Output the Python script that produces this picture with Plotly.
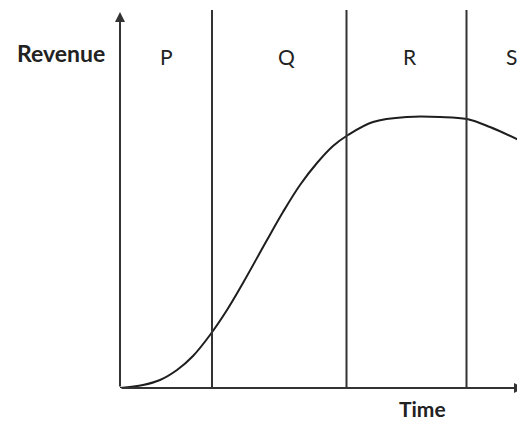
import plotly.graph_objects as go

# Curve: time vs revenue (arbitrary units)
time_vals = [0, 23, 40, 57, 73, 90, 107, 123, 147, 163, 180, 197, 213, 228, 253, 287, 320, 347, 370, 405]
revenue_vals = [0, 3, 8, 18, 32, 53, 78, 105, 148, 176, 203, 225, 242, 253, 266, 271, 271, 269, 261, 245]

# Stage boundaries (time) and stage labels
boundaries = [92, 226.5, 346.5]
stage_labels = ["P", "Q", "R", "S"]
stage_label_x = [0.114, 0.410, 0.716, 0.966]

X_MAX = 405
Y_MAX = 378

fig = go.Figure()
fig.add_trace(go.Scatter(
    x=time_vals, y=revenue_vals, mode="lines",
    line=dict(color="#1e1e1e", width=2, shape="spline", smoothing=1.0),
    hoverinfo="skip", showlegend=False,
))

shapes = []
for b in boundaries:
    shapes.append(dict(type="line", xref="x", yref="y", x0=b, x1=b, y0=0, y1=Y_MAX,
                       line=dict(color="#333333", width=2)))

annotations = []
# axes with arrows
annotations.append(dict(x=0, y=376, ax=0, ay=0, xref="x", yref="y", axref="x", ayref="y",
                        showarrow=True, arrowhead=2, arrowsize=1, arrowwidth=2,
                        arrowcolor="#333333", text=""))
annotations.append(dict(x=404, y=0, ax=0, ay=0, xref="x", yref="y", axref="x", ayref="y",
                        showarrow=True, arrowhead=2, arrowsize=1, arrowwidth=2,
                        arrowcolor="#333333", text=""))
for lab, lx in zip(stage_labels, stage_label_x):
    annotations.append(dict(x=lx, y=0.876, xref="paper", yref="paper", text=lab, showarrow=False,
                            font=dict(family="Lato, Open Sans, sans-serif", size=21, color="#222222"),
                            xanchor="center", yanchor="middle"))
annotations.append(dict(x=-0.146, y=0.885, xref="paper", yref="paper", text="<b>Revenue</b>",
                        showarrow=False,
                        font=dict(family="Lato, Open Sans, sans-serif", size=23, color="#222222"),
                        xanchor="center", yanchor="middle"))
annotations.append(dict(x=0.746, y=-0.054, xref="paper", yref="paper", text="<b>Time</b>",
                        showarrow=False, borderpad=0,
                        font=dict(family="Lato, Open Sans, sans-serif", size=21, color="#222222"),
                        xanchor="center", yanchor="middle"))

fig.update_layout(
    width=517, height=415,
    margin=dict(l=112, r=0, t=2, b=35),
    paper_bgcolor="white", plot_bgcolor="white",
    xaxis=dict(range=[0, X_MAX], visible=False, fixedrange=True),
    yaxis=dict(range=[0, Y_MAX], visible=False, fixedrange=True),
    shapes=shapes, annotations=annotations,
)

fig.write_html("out.html")
